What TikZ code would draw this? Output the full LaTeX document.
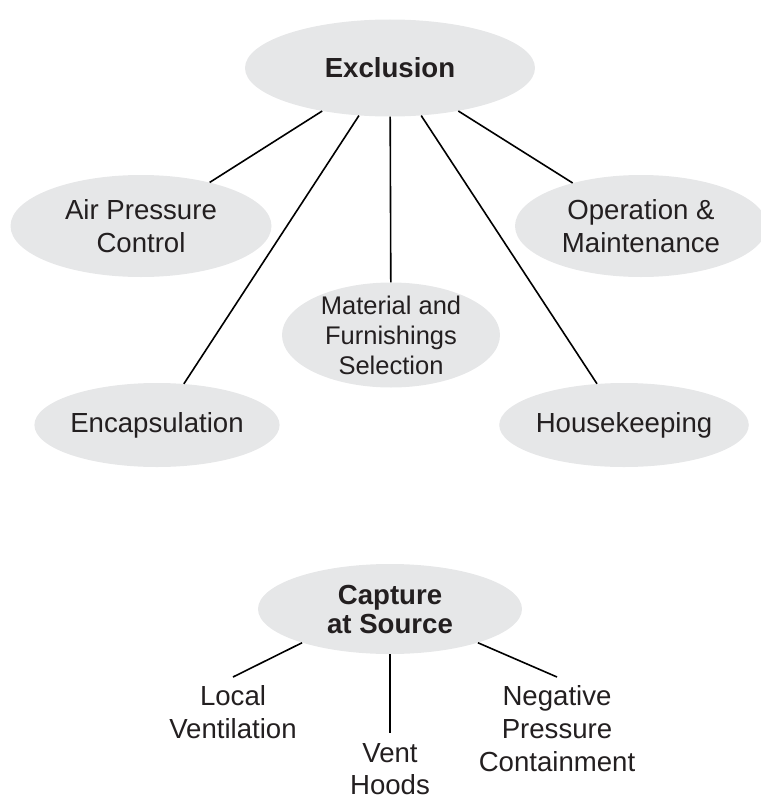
\documentclass[tikz,border=0pt]{standalone}
\usepackage{fontspec}
\setmainfont{Liberation Sans}
\usetikzlibrary{shapes.geometric}
\definecolor{bubble}{HTML}{E6E7E8}
\definecolor{ink}{HTML}{231F20}
\begin{document}
\begin{tikzpicture}[x=1pt,y=-1pt,
  bub/.style={ellipse, fill=bubble, draw=none, inner sep=0pt, align=center, text=ink,
    font=\fontsize{27.6}{32.5}\selectfont},
  link/.style={draw=black, line width=1.6pt},
  leaf/.style={align=center, text=ink, inner xsep=0pt, inner ysep=8pt, anchor=north,
    font=\fontsize{27.6}{33}\selectfont}]
\useasboundingbox (0,0) rectangle (760,800);
% top tree
\node[bub, minimum width=290, minimum height=97,
  font=\bfseries\fontsize{27.6}{32}\selectfont] (excl) at (390,68) {Exclusion};
\node[bub, minimum width=261, minimum height=102] (air) at (141,226) {Air Pressure\\Control};
\node[bub, minimum width=252, minimum height=102] (oper) at (641,226) {Operation \&\\Maintenance};
\node[bub, minimum width=218, minimum height=105, inner ysep=-22pt,
  font=\fontsize{25.5}{30}\selectfont] (mat) at (391,335) {Material and\\Furnishings\\Selection};
\node[bub, minimum width=220, minimum height=84] (enc) at (157,425) {Encapsulation};
\node[bub, minimum width=218, minimum height=84] (house) at (624,425) {Housekeeping};
\draw[link] (excl) -- (air);
\draw[link] (excl) -- (enc);
\draw[link] (excl) -- (mat);
\draw[link] (excl) -- (house);
\draw[link] (excl) -- (oper);
% bottom tree
\node[bub, minimum width=264, minimum height=90,
  font=\bfseries\fontsize{27.6}{29}\selectfont] (cap) at (390,609) {Capture\\at Source};
\node[leaf] (local) at (233,677) {Local\\Ventilation};
\node[leaf, inner ysep=10pt, font=\fontsize{27.6}{32}\selectfont] (vent) at (390,733) {Vent\\Hoods};
\node[leaf] (neg) at (557,677) {Negative\\Pressure\\Containment};
\draw[link] (cap.201) -- (local.north);
\draw[link] (cap.south) -- (vent.north);
\draw[link] (cap.339) -- (neg.north);
\end{tikzpicture}
\end{document}
